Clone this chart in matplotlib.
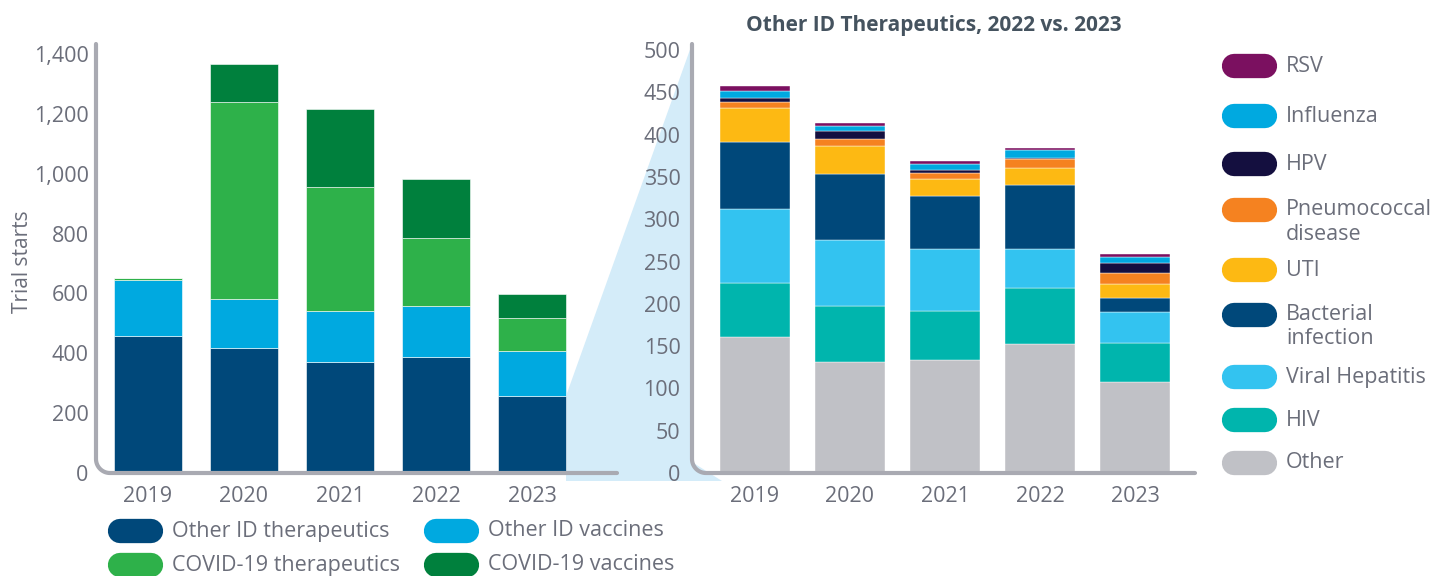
import matplotlib
matplotlib.use("Agg")
import matplotlib.pyplot as plt
from matplotlib.lines import Line2D
from matplotlib.patches import Polygon
import numpy as np

plt.rcParams['font.family'] = ['Open Sans', 'Noto Sans', 'DejaVu Sans']

W, H = 1434, 576

years = ["2019", "2020", "2021", "2022", "2023"]

# left chart: all ID trial starts
other_id_ther = [457, 418, 370, 388, 258]
other_id_vacc = [189, 164, 170, 171, 148]
covid_ther = [5, 659, 415, 225, 111]
covid_vacc = [0, 124, 262, 197, 82]
left_names = ["Other ID therapeutics", "Other ID vaccines", "COVID-19 therapeutics", "COVID-19 vaccines"]
left_colors = ["#00487A", "#00A9E0", "#2EB14A", "#00803D"]

# right chart: breakdown of other ID therapeutics (bottom to top)
right_names = ["Other", "HIV", "Viral Hepatitis", "Bacterial\ninfection", "UTI",
               "Pneumococcal\ndisease", "HPV", "Influenza", "RSV"]
other = [161, 131, 133, 153, 108]
hiv = [64, 66, 59, 66, 46]
viral_hep = [87, 79, 73, 46, 36]
bacterial = [79, 77, 63, 76, 17]
uti = [40, 33, 19, 20, 16]
pneumo = [8, 9, 8, 10, 14]
hpv = [4, 9, 3, 1, 11]
influenza = [9, 6, 7, 10, 7]
rsv = [5, 4, 4, 2, 4]
right_colors = ["#C0C1C6", "#00B5AD", "#33C3F0", "#00487A", "#FDB913",
                "#F58220", "#140F3F", "#00A9E0", "#7B1060"]

tick_col = "#6B6E7A"
spine_col = "#A9AAB2"
fs = 15.5


def fx(x):
    return x / W


def fy(y):
    return 1 - y / H


fig = plt.figure(figsize=(W / 100, H / 100), dpi=100)

# light blue zoom wedge
wedge = Polygon([(fx(566), fy(396)), (fx(692), fy(44)), (fx(692), fy(462)),
                 (fx(722), fy(481)), (fx(566), fy(481))],
                closed=True, transform=fig.transFigure, facecolor="#D4ECF9",
                edgecolor="none", zorder=0)
fig.add_artist(wedge)


def rounded_spine(x0, ytop, ybot, xright, r=14):
    t = np.linspace(np.pi, 1.5 * np.pi, 20)
    cx, cy = x0 + r, ybot - r
    xs = [x0, x0] + list(cx + r * np.cos(t)) + [xright]
    ys = [ytop, ybot - r] + list(cy - r * np.sin(t)) + [ybot]
    fig.add_artist(Line2D([fx(v) for v in xs], [fy(v) for v in ys], color=spine_col,
                          lw=3.0, solid_capstyle="round", solid_joinstyle="round",
                          transform=fig.transFigure, zorder=5))


def pill(x, y, color):
    fig.add_artist(Line2D([fx(x + 12), fx(x + 43)], [fy(y), fy(y)], color=color,
                          lw=17.5, solid_capstyle="round", transform=fig.transFigure))


# ---- left chart
axL = fig.add_axes([fx(97), fy(473), (618 - 97) / W, (473 - 42) / H])
axL.set_facecolor("none")
x = np.arange(len(years))
bottom = np.zeros(len(years))
for vals, c in zip([other_id_ther, other_id_vacc, covid_ther, covid_vacc], left_colors):
    axL.bar(x, vals, 0.71, bottom=bottom, color=c, edgecolor="white", linewidth=0.4, zorder=2)
    bottom += np.array(vals)
axL.set_xlim((97 - 148) / 96, (618 - 148) / 96)
axL.set_ylim(0, 1440)
axL.set_yticks(range(0, 1401, 200))
axL.set_yticklabels([f"{v:,}" for v in range(0, 1401, 200)])
axL.set_xticks(x)
axL.set_xticklabels(years)
for s in axL.spines.values():
    s.set_visible(False)
axL.tick_params(length=0, labelsize=fs, labelcolor=tick_col, pad=6)
axL.tick_params(axis="x", pad=9)
rounded_spine(96, 44, 473, 617)
fig.text(fx(23), fy(262), "Trial starts", rotation=90, ha="center", va="center",
         fontsize=15, color=tick_col)

# ---- right chart
axR = fig.add_axes([fx(693), fy(473), (1195 - 693) / W, (473 - 42) / H])
axR.set_facecolor("none")
bottom = np.zeros(len(years))
for vals, c in zip([other, hiv, viral_hep, bacterial, uti, pneumo, hpv, influenza, rsv], right_colors):
    axR.bar(x, vals, 0.73, bottom=bottom, color=c, edgecolor="white", linewidth=0.3, zorder=2)
    bottom += np.array(vals)
axR.set_xlim((693 - 755) / 95, (1195 - 755) / 95)
axR.set_ylim(0, 509.5)
axR.set_yticks(range(0, 501, 50))
axR.set_xticks(x)
axR.set_xticklabels(years)
for s in axR.spines.values():
    s.set_visible(False)
axR.tick_params(length=0, labelsize=fs, labelcolor=tick_col, pad=9)
axR.tick_params(axis="x", pad=9)
rounded_spine(692, 44, 473, 1195)

fig.text(fx(934), fy(26), "Other ID Therapeutics, 2022 vs. 2023", ha="center", va="center",
         fontsize=15, fontweight="bold", color="#45535F")

# right legend (top to bottom)
leg_y = [66, 116, 164, 210, 270, 315, 377, 420, 463]
for name, c, y in zip(right_names[::-1], right_colors[::-1], leg_y):
    pill(1222, y, c)
    for k, line in enumerate(name.split("\n")):
        fig.text(fx(1286), fy(y + 24 * k), line, ha="left", va="center",
                 fontsize=fs, color=tick_col)

# bottom legend
leg_pos = [(108, 531), (424, 531), (108, 565), (424, 565)]
for name, c, (px, py) in zip(left_names, left_colors, leg_pos):
    pill(px, py, c)
    fig.text(fx(px + 64), fy(py), name, ha="left", va="center", fontsize=fs, color=tick_col)

fig.savefig("out.png", dpi=100)
